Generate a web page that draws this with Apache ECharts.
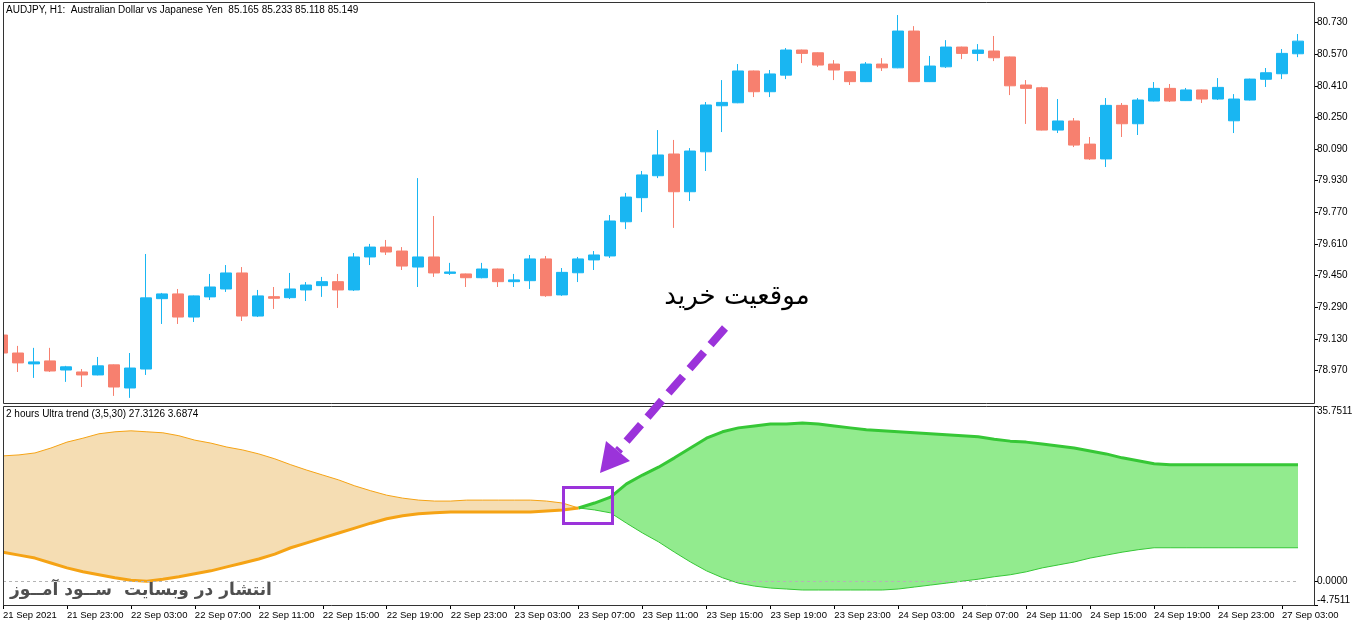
<!DOCTYPE html>
<html>
<head>
<meta charset="utf-8">
<script src="https://cdn.jsdelivr.net/npm/echarts@6/dist/echarts.min.js"></script>
<style>
html,body{margin:0;padding:0;background:#fff}
#main{width:1362px;height:628px}
</style>
</head>
<body>
<div id="main"></div>
<script>
// AUDJPY H1 candles, 21 Sep 19:00 .. 27 Sep 04:00
var sessions = [['21 Sep', 19, 23], ['22 Sep', 0, 23], ['23 Sep', 0, 23], ['24 Sep', 0, 23], ['27 Sep', 0, 4]];
var times = [];
sessions.forEach(function (s) {
    for (var h = s[1]; h <= s[2]; h++) times.push(s[0] + ' ' + (h < 10 ? '0' : '') + h + ':00');
});

var open = [79.149,79.058,79.003,79.018,78.972,78.962,78.947,78.998,78.881,78.977,
    79.333,79.357,79.240,79.342,79.382,79.463,79.245,79.343,79.338,79.377,
    79.399,79.419,79.377,79.544,79.594,79.574,79.493,79.544,79.461,79.458,
    79.439,79.483,79.419,79.424,79.534,79.352,79.464,79.529,79.549,79.722,
    79.844,79.955,80.065,79.874,80.076,80.309,80.324,80.485,80.380,80.464,
    80.591,80.577,80.520,80.481,80.431,80.520,80.501,80.687,80.431,80.506,
    80.606,80.574,80.586,80.556,80.414,80.400,80.186,80.232,80.115,80.040,
    80.311,80.218,80.333,80.397,80.335,80.389,80.343,80.233,80.338,80.443,
    80.471,80.572];
var close = [79.058,79.008,79.013,78.967,78.988,78.947,78.993,78.886,78.982,79.337,
    79.357,79.240,79.347,79.392,79.463,79.245,79.347,79.335,79.382,79.402,
    79.419,79.377,79.544,79.594,79.569,79.498,79.544,79.463,79.468,79.439,
    79.483,79.419,79.428,79.534,79.348,79.466,79.534,79.554,79.726,79.847,
    79.959,80.060,79.874,80.080,80.313,80.326,80.485,80.380,80.470,80.591,
    80.574,80.515,80.490,80.431,80.520,80.501,80.687,80.431,80.510,80.606,
    80.574,80.591,80.552,80.410,80.397,80.186,80.232,80.110,80.040,80.311,
    80.218,80.338,80.397,80.333,80.389,80.343,80.402,80.343,80.444,80.476,
    80.574,80.636];
var low = [79.048,78.962,78.932,78.962,78.912,78.886,78.945,78.841,78.831,78.947,
    79.205,79.205,79.215,79.326,79.367,79.220,79.240,79.281,79.331,79.321,
    79.342,79.286,79.372,79.503,79.554,79.478,79.392,79.443,79.453,79.392,
    79.436,79.392,79.392,79.382,79.342,79.347,79.417,79.478,79.539,79.685,
    79.771,79.943,79.691,79.827,79.979,80.176,80.322,80.353,80.353,80.444,
    80.525,80.506,80.439,80.414,80.429,80.485,80.499,80.429,80.429,80.500,
    80.545,80.535,80.535,80.363,80.217,80.184,80.171,80.100,80.035,79.999,
    80.151,80.161,80.331,80.328,80.333,80.323,80.338,80.171,80.336,80.404,
    80.444,80.555];
var high = [79.154,79.094,79.084,79.084,78.993,78.977,79.038,79.000,79.058,79.559,
    79.362,79.382,79.349,79.458,79.503,79.493,79.377,79.392,79.463,79.417,
    79.443,79.458,79.564,79.610,79.630,79.594,79.943,79.751,79.514,79.460,
    79.514,79.485,79.458,79.554,79.549,79.488,79.544,79.574,79.756,79.868,
    79.979,80.186,80.136,80.095,80.328,80.439,80.520,80.487,80.490,80.601,
    80.593,80.579,80.540,80.483,80.530,80.550,80.768,80.712,80.561,80.641,
    80.608,80.621,80.662,80.558,80.439,80.405,80.343,80.247,80.151,80.348,
    80.323,80.348,80.429,80.419,80.399,80.391,80.449,80.368,80.446,80.500,
    80.596,80.672];

// Ultra trend bands: bearish part (bars 0-36), bullish part (bars 36-81)
var bearUpper = [25.6,25.8,26.2,27.2,28.4,29.2,30.1,30.5,30.7,30.5,30.3,29.7,28.8,28.2,27.4,26.8,26.0,25.0,
    23.8,22.7,21.7,20.7,19.5,18.5,17.6,17.0,16.6,16.4,16.4,16.6,16.6,16.6,16.6,16.6,16.4,16.0,15.0];
var bearLower = [6.0,5.4,4.8,3.8,2.8,2.0,1.4,0.8,0.3,0.1,0.5,1.0,1.6,2.2,3.0,3.8,4.6,5.6,
    6.9,7.9,8.9,9.9,10.9,11.9,12.8,13.4,13.8,14.0,14.2,14.2,14.2,14.2,14.2,14.2,14.4,14.6,15.0];
var bullUpper = [15.0,16.0,17.2,19.9,21.7,23.3,25.2,27.2,29.2,30.5,31.3,31.7,32.1,32.1,32.3,32.1,31.7,31.3,
    30.9,30.7,30.5,30.3,30.1,29.9,29.7,29.5,29.0,28.6,28.4,28.0,27.6,27.2,26.6,26.0,25.2,24.6,24.0,
    23.8,23.8,23.8,23.8,23.8,23.8,23.8,23.8,23.8];
var bullLower = [15.0,14.6,14.0,11.9,9.9,8.1,6.0,4.0,2.2,0.8,-0.3,-0.9,-1.3,-1.5,-1.7,-1.7,-1.7,-1.7,
    -1.7,-1.7,-1.5,-1.1,-0.7,-0.3,0.1,0.5,1.0,1.4,2.0,2.8,3.4,4.0,4.8,5.4,6.0,6.5,
    6.9,6.9,6.9,6.9,6.9,6.9,6.9,6.9,6.9,6.9];

var priceTicks = [78.97, 79.13, 79.29, 79.45, 79.61, 79.77, 79.93, 80.09, 80.25, 80.41, 80.57, 80.73];
var trendTicks = [-4.7511, 0, 35.7511];

var BULL = '#19B6F2', BEAR = '#F7806F';
var PURPLE = '#9B33DA';
var FONT = 'Liberation Sans';

function pad(arr, before, total) {
    var out = [];
    for (var i = 0; i < before; i++) out.push(null);
    out = out.concat(arr);
    while (out.length < total) out.push(null);
    return out;
}
var n = times.length;
var bearLo = pad(bearLower, 0, n);
var bearBand = pad(bearUpper.map(function (v, i) { return +(v - bearLower[i]).toFixed(2); }), 0, n);
var bullLo = pad(bullLower, 36, n);
var bullBand = pad(bullUpper.map(function (v, i) { return +(v - bullLower[i]).toFixed(2); }), 36, n);

var myChart = echarts.init(document.getElementById('main'));

var option = {
    animation: false,
    textStyle: { fontFamily: FONT },
    grid: [
        { left: 2, right: 64, top: 2, height: 402 },
        { left: 2, right: 64, top: 406, height: 199 }
    ],
    xAxis: [
        {
            type: 'category', gridIndex: 0, data: times, boundaryGap: false,
            axisLine: { show: false, onZero: false }, axisTick: { show: false }, axisLabel: { show: false }
        },
        {
            type: 'category', gridIndex: 1, data: times, boundaryGap: false, position: 'bottom',
            axisLine: { show: false, onZero: false },
            axisTick: { show: true, interval: 3, length: 4, lineStyle: { color: '#000' } },
            axisLabel: {
                interval: 3, align: 'left', margin: 5, fontSize: 9.5, color: '#000', fontFamily: FONT,
                formatter: function (v, i) { return i === 0 ? '21 Sep 2021' : v; }
            }
        }
    ],
    yAxis: [
        {
            type: 'value', gridIndex: 0, position: 'right', offset: 16,
            min: 78.800, max: 80.834, scale: true,
            axisLine: { show: false },
            splitLine: { show: false },
            axisTick: { show: true, length: 4, customValues: priceTicks, lineStyle: { color: '#000' } },
            axisLabel: {
                customValues: priceTicks, margin: 3, fontSize: 10, color: '#000', fontFamily: FONT,
                formatter: function (v) { return v.toFixed(3); }
            }
        },
        {
            type: 'value', gridIndex: 1, position: 'right', offset: 16,
            min: -4.7511, max: 35.7511,
            axisLine: { show: false },
            splitLine: { show: false },
            axisTick: { show: true, length: 4, customValues: trendTicks, lineStyle: { color: '#000' } },
            axisLabel: {
                customValues: trendTicks, margin: 3, fontSize: 10, color: '#000', fontFamily: FONT,
                verticalAlignMaxLabel: 'top', verticalAlignMinLabel: 'bottom',
                formatter: function (v) { return v.toFixed(4); }
            }
        }
    ],
    series: [
        {
            name: 'AUDJPY', type: 'candlestick', xAxisIndex: 0, yAxisIndex: 0,
            data: open.map(function (o, i) { return [o, close[i], low[i], high[i]]; }),
            barWidth: 11, clip: false,
            itemStyle: { color: BULL, color0: BEAR, borderColor: BULL, borderColor0: BEAR, borderWidth: 1 }
        },
        {
            name: 'zero', type: 'line', xAxisIndex: 1, yAxisIndex: 1, z: 1,
            data: times.map(function () { return null; }),
            markLine: {
                silent: true, symbol: 'none', label: { show: false },
                lineStyle: { color: '#b4b4b4', type: [3, 3], width: 1 },
                data: [{ yAxis: 0 }]
            }
        },
        {
            name: 'bearLower', type: 'line', xAxisIndex: 1, yAxisIndex: 1, z: 4,
            stack: 'bear', stackStrategy: 'all', data: bearLo, symbol: 'none',
            lineStyle: { color: '#F5A315', width: 3 }
        },
        {
            name: 'bearUpper', type: 'line', xAxisIndex: 1, yAxisIndex: 1, z: 2,
            stack: 'bear', stackStrategy: 'all', data: bearBand, symbol: 'none',
            lineStyle: { color: '#F5A315', width: 1 },
            areaStyle: { color: '#F5DDB3', opacity: 1 }
        },
        {
            name: 'bullLower', type: 'line', xAxisIndex: 1, yAxisIndex: 1, z: 4,
            stack: 'bull', stackStrategy: 'all', data: bullLo, symbol: 'none',
            lineStyle: { color: '#36C736', width: 1 }
        },
        {
            name: 'bullUpper', type: 'line', xAxisIndex: 1, yAxisIndex: 1, z: 3,
            stack: 'bull', stackStrategy: 'all', data: bullBand, symbol: 'none',
            lineStyle: { color: '#36C736', width: 3 },
            areaStyle: { color: '#92EB8E', opacity: 1 }
        }
    ],
    graphic: [
        { type: 'rect', z: 100, shape: { x: 0, y: 0, width: 3, height: 628 }, style: { fill: '#fff' } },
        { type: 'rect', z: 101, shape: { x: 3.5, y: 2.5, width: 1311, height: 401 }, style: { fill: null, stroke: '#333', lineWidth: 1 } },
        { type: 'rect', z: 101, shape: { x: 3.5, y: 406.5, width: 1311, height: 199 }, style: { fill: null, stroke: '#333', lineWidth: 1 } },
        { type: 'text', z: 102, x: 6, y: 5, style: { text: 'AUDJPY, H1:  Australian Dollar vs Japanese Yen  85.165 85.233 85.118 85.149', fontSize: 10, fontFamily: FONT, fill: '#000' } },
        { type: 'text', z: 102, x: 6, y: 409, style: { text: '2 hours Ultra trend (3,5,30) 27.3126 3.6874', fontSize: 10, fontFamily: FONT, fill: '#000' } },
        { type: 'text', z: 102, x: 737, y: 297, style: { text: 'موقعیت خرید', fontSize: 26, fontFamily: 'DejaVu Sans', fill: '#000', align: 'center', verticalAlign: 'middle' } },
        { type: 'text', z: 102, x: 10, y: 591, style: { text: 'انتشار در وبسایت  ســود آمــوز', fontSize: 17, fontWeight: 'bold', fontFamily: 'DejaVu Sans', fill: '#4f4f4f', verticalAlign: 'middle' } },
        { type: 'line', z: 103, shape: { x1: 725, y1: 328, x2: 618, y2: 451 }, style: { stroke: PURPLE, lineWidth: 8, lineDash: [22, 10] } },
        { type: 'polygon', z: 103, shape: { points: [[600, 473], [630, 461], [606, 441]] }, style: { fill: PURPLE } },
        { type: 'rect', z: 103, shape: { x: 563.5, y: 487.5, width: 49, height: 36 }, style: { fill: null, stroke: PURPLE, lineWidth: 3 } }
    ]
};

myChart.setOption(option);
</script>
</body>
</html>
